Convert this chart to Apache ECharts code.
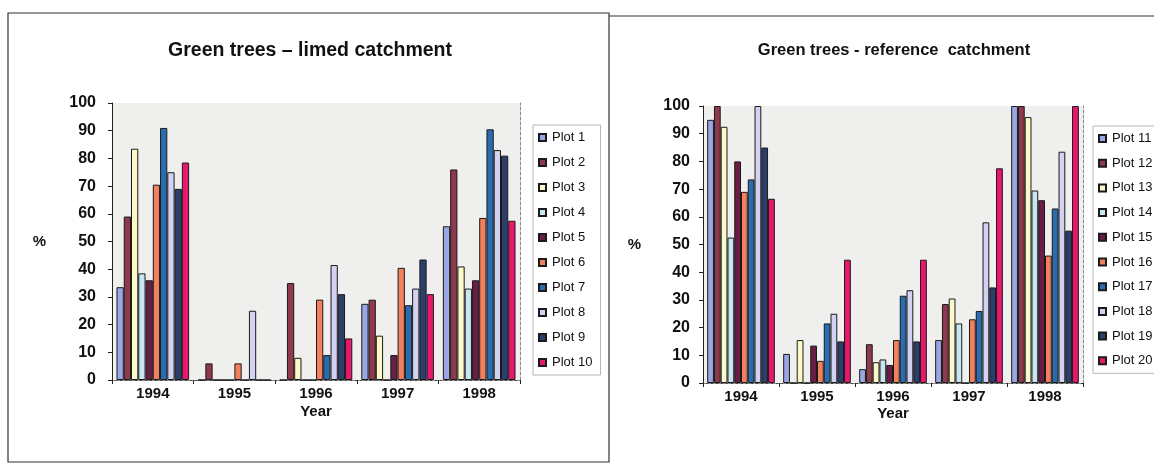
<!DOCTYPE html>
<html>
<head>
<meta charset="utf-8">
<script src="https://cdn.jsdelivr.net/npm/echarts@6/dist/echarts.min.js"></script>
<style>
  html, body { margin: 0; padding: 0; background: #ffffff; }
  #chart { width: 1154px; height: 464px; }
</style>
</head>
<body>
<div id="chart"></div>
<script>
// Years on the category axis
const years = ['1994', '1995', '1996', '1997', '1998'];
const yTicks = [0, 10, 20, 30, 40, 50, 60, 70, 80, 90, 100];

// Limed catchment: share of green trees (%) per plot
const limedNames = ['Plot 1', 'Plot 2', 'Plot 3', 'Plot 4', 'Plot 5', 'Plot 6', 'Plot 7', 'Plot 8', 'Plot 9', 'Plot 10'];
const plot1  = [33.5, 0, 0, 27.5, 55.5];
const plot2  = [59, 6, 35, 29, 76];
const plot3  = [83.5, 0, 8, 16, 41];
const plot4  = [38.5, 0, 0, 0, 33];
const plot5  = [36, 0, 0, 9, 36];
const plot6  = [70.5, 6, 29, 40.5, 58.5];
const plot7  = [91, 0, 9, 27, 90.5];
const plot8  = [75, 25, 41.5, 33, 83];
const plot9  = [69, 0, 31, 43.5, 81];
const plot10 = [78.5, 0, 15, 31, 57.5];

// Reference catchment: share of green trees (%) per plot
const refNames = ['Plot 11', 'Plot 12', 'Plot 13', 'Plot 14', 'Plot 15', 'Plot 16', 'Plot 17', 'Plot 18', 'Plot 19', 'Plot 20'];
const plot11 = [95, 10.5, 5, 15.5, 100];
const plot12 = [100, 0, 14, 28.5, 100];
const plot13 = [92.5, 15.5, 7.5, 30.5, 96];
const plot14 = [52.5, 0, 8.5, 21.5, 69.5];
const plot15 = [80, 13.5, 6.5, 0, 66];
const plot16 = [69, 8, 15.5, 23, 46];
const plot17 = [73.5, 21.5, 31.5, 26, 63];
const plot18 = [100, 25, 33.5, 58, 83.5];
const plot19 = [85, 15, 15, 34.5, 55];
const plot20 = [66.5, 44.5, 44.5, 77.5, 100];

const limedValues = [plot1, plot2, plot3, plot4, plot5, plot6, plot7, plot8, plot9, plot10];
const refValues = [plot11, plot12, plot13, plot14, plot15, plot16, plot17, plot18, plot19, plot20];

// Series palette (same order in both panels)
const palette = ['#9aa6e6', '#8e3a4c', '#fcf8c8', '#c8e6f2', '#6a1e46',
                 '#f2805e', '#2a6cb0', '#d2d2f2', '#2c3e6c', '#e8186e'];

const FONT = '"Liberation Sans", Arial, sans-serif';

function panelAxes(gridIndex, pctGap, labelMargin) {
  const x = [
    {
      type: 'category', gridIndex, data: years,
      axisLine: { lineStyle: { color: '#222', width: 1 } },
      axisTick: { show: true, length: 4, lineStyle: { color: '#222' } },
      axisLabel: { fontFamily: FONT, fontWeight: 'bold', fontSize: 15, color: '#111', margin: 6 }
    },
    {
      type: 'category', gridIndex, data: years, position: 'top',
      axisLine: { lineStyle: { color: '#888', width: 1, type: [3, 2] } },
      axisTick: { show: false }, axisLabel: { show: false }
    }
  ];
  const y = [
    {
      type: 'value', gridIndex, min: 0, max: 100, interval: 10,
      name: '%', nameLocation: 'middle', nameRotate: 0, nameGap: pctGap,
      nameTextStyle: { fontFamily: FONT, fontWeight: 'bold', fontSize: 15, color: '#111' },
      axisLine: { show: true, lineStyle: { color: '#222', width: 1 } },
      axisTick: { show: true, length: 4, lineStyle: { color: '#222' } },
      splitLine: { show: false },
      axisLabel: {
        fontFamily: FONT, fontWeight: 'bold', fontSize: 16, color: '#111', margin: labelMargin,
        formatter: v => (yTicks.indexOf(v) >= 0 ? String(v) : '')
      }
    },
    {
      type: 'value', gridIndex, min: 0, max: 100, interval: 10, position: 'right',
      axisLine: { show: true, lineStyle: { color: '#888', width: 1, type: [3, 2] } },
      axisTick: { show: false }, axisLabel: { show: false }, splitLine: { show: false }
    }
  ];
  return { x, y };
}

function panelSeries(names, values, axisIndex) {
  return names.map((name, i) => ({
    name,
    type: 'bar',
    xAxisIndex: axisIndex,
    yAxisIndex: axisIndex,
    data: values[i],
    barGap: '0%',
    barCategoryGap: '11%',
    itemStyle: { color: palette[i], borderColor: '#1a1a1a', borderWidth: 1 },
    emphasis: { disabled: true }
  }));
}

const left = panelAxes(0, 66, 16);
const right = panelAxes(1, 62, 13);

const legendBase = {
  orient: 'vertical',
  itemWidth: 7,
  itemHeight: 7,
  icon: 'rect',
  borderColor: '#b5b5b5',
  borderWidth: 1,
  padding: [6, 8, 6, 5],
  backgroundColor: '#ffffff',
  textStyle: { fontFamily: FONT, fontSize: 13, color: '#111', padding: [0, 0, 0, 1] },
  selectedMode: false
};

const axisTitleStyle = { fontFamily: FONT, fontWeight: 'bold', fontSize: 15, color: '#111' };

const option = {
  backgroundColor: '#ffffff',
  animation: false,
  title: [
    {
      text: 'Green trees \u2013 limed catchment', left: 305, top: 36, textAlign: 'center',
      textStyle: { fontFamily: FONT, fontWeight: 'bold', fontSize: 19.5, color: '#111' }
    },
    {
      text: 'Green trees - reference  catchment', left: 889, top: 37, textAlign: 'center',
      textStyle: { fontFamily: FONT, fontWeight: 'bold', fontSize: 16.5, color: '#111' }
    },
    // x-axis titles
    { text: 'Year', left: 316, top: 404, textAlign: 'center', padding: 0, textStyle: axisTitleStyle },
    { text: 'Year', left: 893, top: 406, textAlign: 'center', padding: 0, textStyle: axisTitleStyle }
  ],
  grid: [
    { left: 112, right: 634, top: 103, bottom: 84, show: true, backgroundColor: '#efefed', borderWidth: 0 },
    { left: 703, right: 71, top: 106, bottom: 81, show: true, backgroundColor: '#efefed', borderWidth: 0 }
  ],
  xAxis: [left.x[0], left.x[1], right.x[0], right.x[1]],
  yAxis: [left.y[0], left.y[1], right.y[0], right.y[1]],
  legend: [
    Object.assign({ data: limedNames, left: 533, top: 125, itemGap: 12 }, legendBase),
    Object.assign({ data: refNames, left: 1093, top: 126, itemGap: 11.7 }, legendBase)
  ],
  series: panelSeries(limedNames, limedValues, 0).concat(panelSeries(refNames, refValues, 2)),
  graphic: [
    // frame around the left panel and the top edge of the right panel
    { type: 'rect', shape: { x: 8, y: 13, width: 601, height: 449 },
      style: { fill: 'none', stroke: '#333', lineWidth: 1.2 }, silent: true },
    { type: 'line', shape: { x1: 609, y1: 16, x2: 1154, y2: 16 },
      style: { stroke: '#333', lineWidth: 1.2 }, silent: true }
  ]
};

const chart = echarts.init(document.getElementById('chart'), null, { renderer: 'canvas' });
chart.setOption(option);
</script>
</body>
</html>
